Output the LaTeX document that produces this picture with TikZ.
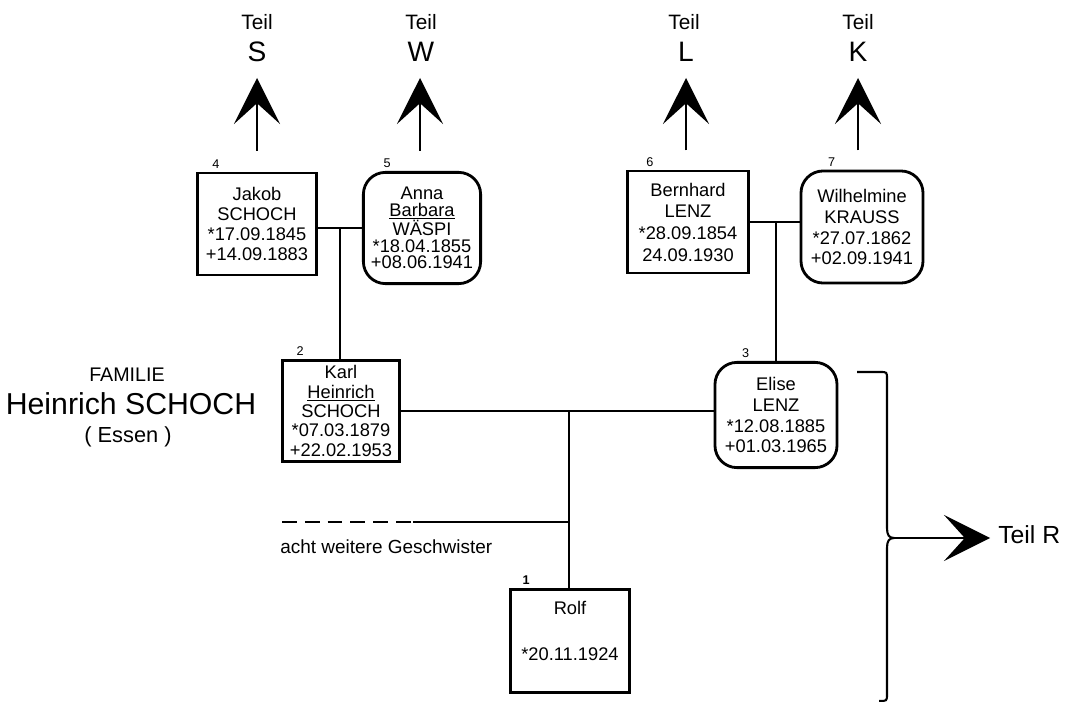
\documentclass[tikz,border=0pt]{standalone}
\usepackage{fontspec}
\setmainfont{Liberation Sans}
\usetikzlibrary{arrows.meta,positioning}

\begin{document}
\begin{tikzpicture}[x=0.025cm,y=-0.025cm,>=Stealth,
 mbox/.style={draw,line width=2pt,minimum width=2.98cm,minimum height=2.55cm,align=center,inner sep=1pt,font=\fontsize{13}{14.2}\selectfont},
 fbox/.style={mbox,rounded corners=0.55cm},
 nr/.style={inner sep=1pt,font=\fontsize{9}{10}\selectfont},
 teil/.style={anchor=base,inner sep=0pt,font=\fontsize{14.8}{16}\selectfont},
 buchst/.style={anchor=base,inner sep=0pt,font=\fontsize{20}{22}\selectfont},
 ehe/.style={line width=1.6pt},
 hoch/.style={-{Stealth[length=1.15cm,width=1.15cm,inset=0.52cm]},line width=1.4pt},
 klammer/.style={line width=1.5pt}]
\useasboundingbox (0,0) rectangle (1072,702);

\node[mbox] (jakob) at (257,224) {Jakob\\SCHOCH\\{*}17.09.1845\\+14.09.1883};
\node[fbox,minimum width=2.93cm,minimum height=2.78cm,font=\fontsize{13}{11.8}\selectfont] (anna) at (422,228) {Anna\\\underline{Barbara}\\WÄSPI\\{*}18.04.1855\\+08.06.1941};
\node[mbox,minimum width=3.03cm,font=\fontsize{13}{15.4}\selectfont] (bernhard) at (688,222) {Bernhard\\LENZ\\{*}28.09.1854\\24.09.1930};
\node[fbox,minimum width=3.05cm,minimum height=2.8cm,font=\fontsize{13}{14.9}\selectfont] (wilhelmine) at (862,227) {Wilhelmine\\KRAUSS\\{*}27.07.1862\\+02.09.1941};
\node[mbox,minimum width=2.93cm,minimum height=2.53cm,font=\fontsize{13}{13.8}\selectfont] (karl) at (341,411) {Karl\\\underline{Heinrich}\\SCHOCH\\{*}07.03.1879\\+22.02.1953};
\node[fbox,minimum width=3.05cm,minimum height=2.63cm,font=\fontsize{13}{14.9}\selectfont] (elise) at (776,415) {Elise\\LENZ\\{*}12.08.1885\\+01.03.1965};
\node[mbox,minimum height=2.58cm] (rolf) at (570,641) {Rolf\\[18.4pt]{*}20.11.1924\\\mbox{}};

\node[nr,above right=1pt and 0.37cm of jakob.north west] (n4) {4};
\node[nr,above right=1pt and 0.5cm of anna.north west] (n5) {5};
\node[nr,above right=1pt and 0.47cm of bernhard.north west] (n6) {6};
\node[nr,above right=1pt and 0.67cm of wilhelmine.north west] (n7) {7};
\node[nr,above right=1pt and 0.35cm of karl.north west] (n2) {2};
\node[nr,above right=1pt and 0.67cm of elise.north west] (n3) {3};
\node[nr,above right=1pt and 0.3cm of rolf.north west,font=\fontsize{9}{10}\selectfont\bfseries] (n1) {1};

\node[teil] (teilS) at (257,30) {Teil};
\node[buchst] (bS) at (257,62) {S};
\node[teil] (teilW) at (421,30) {Teil};
\node[buchst] (bW) at (421,62) {W};
\node[teil] (teilL) at (684,30) {Teil};
\node[buchst] (bL) at (686,62) {L};
\node[teil] (teilK) at (858,30) {Teil};
\node[buchst] (bK) at (858,62) {K};

\coordinate (spS) at (257,78);
\coordinate (spW) at (420,78);
\coordinate (spL) at (686,78);
\coordinate (spK) at (858,78);
\draw[hoch,shorten <=0.52cm] (spS |- jakob.north) -- (spS);
\draw[hoch,shorten <=0.5cm] (spW |- anna.north) -- (spW);
\draw[hoch,shorten <=0.48cm] (spL |- bernhard.north) -- (spL);
\draw[hoch,shorten <=0.48cm] (spK |- wilhelmine.north) -- (spK);

\coordinate (m45) at (340,228);
\coordinate (m67) at (776,222);
\coordinate (m23) at (569,411);
\draw[ehe] (jakob.east |- anna.west) -- (anna.west);
\draw[ehe] (m45) -- (m45 |- karl.north);
\draw[ehe] (bernhard.east) -- (bernhard.east -| wilhelmine.west);
\draw[ehe] (m67) -- (elise.north);
\draw[ehe] (karl.east) -- (karl.east -| elise.west);
\draw[ehe] (m23) -- (m23 |- rolf.north);

\coordinate (gsA) at (282,522);
\coordinate (gsB) at (413,522);
\draw[ehe,dash pattern=on 0.37cm off 0.2cm] (gsA) -- (gsB);
\draw[ehe] (gsB) -- (gsB -| m23);
\node[anchor=base west,inner sep=0pt,font=\fontsize{13.5}{15}\selectfont] (gsText) at (280,553) {acht weitere Geschwister};

\node[anchor=base,inner sep=0pt,font=\fontsize{14}{16}\selectfont] (familie) at (127,381) {FAMILIE};
\node[anchor=base,inner sep=0pt,font=\fontsize{21.5}{24}\selectfont] (famname) at (131,414) {Heinrich SCHOCH};
\node[anchor=base,inner sep=0pt,font=\fontsize{15.5}{18}\selectfont] (famort) at (128,442) {( Essen )};

\coordinate (klOben) at (857,372);
\coordinate (klSpitze) at (894,538);
\coordinate (klUnten) at (879,701);
\draw[klammer] (klOben) -- (880,372) .. controls (887,372) .. (887,379) -- (887,528)
 .. controls (887,535) and (889,538) .. (klSpitze) .. controls (889,538) and (887,541) .. (887,548)
 -- (887,694) .. controls (887,701) .. (klUnten);
\node[anchor=base west,inner xsep=0.2cm,inner ysep=0pt,font=\fontsize{17.6}{20}\selectfont] (teilR) at (990,543) {Teil R};
\draw[hoch] (klSpitze) -- (teilR.west |- klSpitze);
\end{tikzpicture}
\end{document}
